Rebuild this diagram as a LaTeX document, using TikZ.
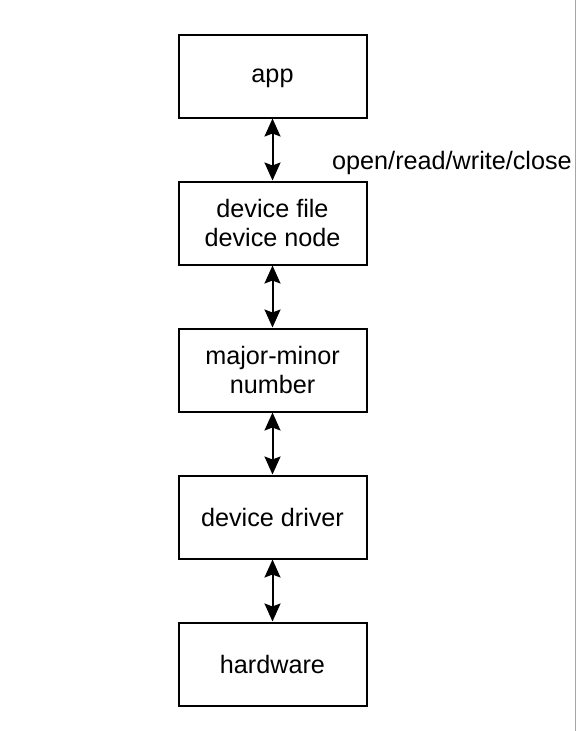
\documentclass[tikz,border=0pt]{standalone}
\usepackage{fontspec}
\setmainfont{Liberation Sans}
\usetikzlibrary{positioning}
\usetikzlibrary{arrows.meta}

\begin{document}
\begin{tikzpicture}[x=1pt, y=-1pt, every node/.style={font=\fontsize{25.2}{28.5}\selectfont},
    blk/.style={draw, line width=2pt, minimum width=188pt, minimum height=83pt, align=center, inner sep=0pt, text depth=0pt},
    link/.style={{Stealth[length=18pt,width=16pt,inset=3pt]}-{Stealth[length=18pt,width=16pt,inset=3pt]}, line width=2pt}]
    \useasboundingbox (0,0) rectangle (576,731);
    \draw[gray!70, line width=1pt] (575.5,0) -- (575.5,731);

    \node[blk] (app) at (272.5,76) {app};
    \node[blk] (devfile) at (272.5,223) {device file\\device node};
    \node[blk] (majmin) at (272.5,370) {major-minor\\number};
    \node[blk] (driver) at (272.5,517) {device driver};
    \node[blk] (hw) at (272.5,664) {hardware};

    \node[anchor=west, inner sep=0pt] (ops) at (332,163) {open/read/write/close};

    \draw[link] (app) -- (devfile);
    \draw[link] (devfile) -- (majmin);
    \draw[link] (majmin) -- (driver);
    \draw[link] (driver) -- (hw);
\end{tikzpicture}
\end{document}
